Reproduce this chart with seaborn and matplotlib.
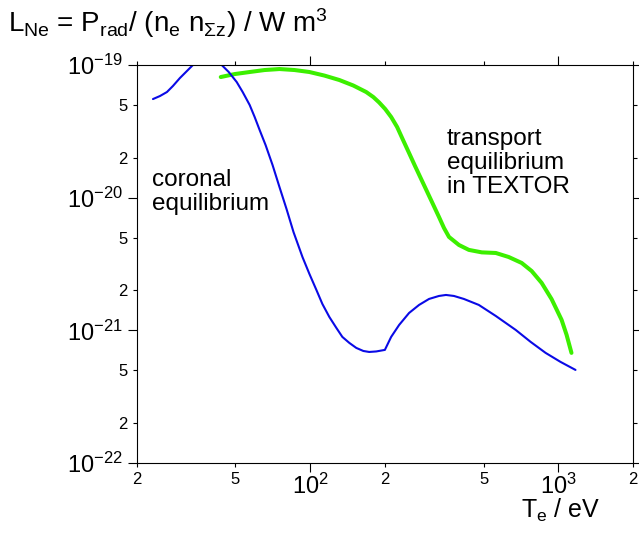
import matplotlib
matplotlib.use("Agg")
import matplotlib.pyplot as plt
import seaborn as sns
import pandas as pd

# Coronal equilibrium (blue)
coronal_te = [23.25, 24.81, 26.47, 27.98, 29.85, 31.85, 33.67, 35.93, 38.32, 40.88,
              44.01, 46.96, 50.56, 53.45, 57.03, 59.73, 62.55, 66.13, 70.55, 75.24,
              80.29, 85.66, 93.10, 99.31, 105.95, 112.0, 119.5, 127.5, 134.8, 143.8,
              153.4, 163.7, 172.9, 184.5, 200.0, 212.0, 228.3, 250.4, 274.7, 301.3,
              330.4, 352.6, 379.7, 416.4, 478.3, 559.9, 673.5, 773.8, 888.9, 1021,
              1173]
coronal_l = [5.54e-20, 5.84e-20, 6.26e-20, 6.95e-20, 7.98e-20, 9.01e-20, 1.0e-19,
             1.11e-19, 1.149e-19, 1.11e-19, 1.0e-19, 8.86e-20, 7.45e-20, 6.26e-20,
             5.00e-20, 4.06e-20, 3.24e-20, 2.49e-20, 1.76e-20, 1.20e-20, 8.22e-21,
             5.51e-21, 3.57e-21, 2.66e-21, 2.015e-21, 1.58e-21, 1.26e-21, 1.043e-21,
             8.92e-22, 8.04e-22, 7.37e-22, 6.99e-22, 6.87e-22, 6.93e-22, 7.12e-22,
             8.92e-22, 1.098e-21, 1.352e-21, 1.554e-21, 1.724e-21, 1.816e-21,
             1.848e-21, 1.816e-21, 1.724e-21, 1.554e-21, 1.283e-21, 1.007e-21,
             8.18e-22, 6.76e-22, 5.78e-22, 5.03e-22]

# Transport equilibrium in TEXTOR (green)
textor_te = [43.61, 49.63, 57.03, 65.52, 75.24, 86.45, 99.31, 114.1, 131.1, 149.2,
             168.2, 179.6, 189.7, 200.6, 212.0, 224.1, 236.8, 250.4, 264.7, 285.0,
             306.9, 330.4, 346.2, 362.6, 397.7, 436.1, 491.7, 559.9, 631.3, 711.9,
             780.9, 856.5, 939.6, 1031, 1080, 1130]
textor_l = [8.12e-20, 8.55e-20, 8.86e-20, 9.17e-20, 9.33e-20, 9.17e-20, 8.86e-20,
            8.33e-20, 7.71e-20, 7.01e-20, 6.26e-20, 5.74e-20, 5.22e-20, 4.66e-20,
            4.06e-20, 3.41e-20, 2.72e-20, 2.17e-20, 1.73e-20, 1.29e-20, 9.61e-21,
            7.16e-21, 5.91e-21, 5.06e-21, 4.40e-21, 4.04e-21, 3.87e-21, 3.83e-21,
            3.57e-21, 3.22e-21, 2.80e-21, 2.28e-21, 1.72e-21, 1.20e-21, 9.24e-22,
            6.76e-22]

x_major = [100, 1000]
x_major_labels = ["$10^2$", "$10^3$"]
x_minor = [20, 50, 200, 500, 2000]
x_minor_labels = ["2", "5", "2", "5", "2"]
y_major = [1e-22, 1e-21, 1e-20, 1e-19]
y_major_labels = ["$10^{-22}$", "$10^{-21}$", "$10^{-20}$", "$10^{-19}$"]
y_minor = [2e-22, 5e-22, 2e-21, 5e-21, 2e-20, 5e-20]
y_minor_labels = ["2", "5", "2", "5", "2", "5"]

sns.set_style("ticks")
plt.rcParams["font.family"] = ["Liberation Sans", "DejaVu Sans"]
plt.rcParams["text.color"] = "black"
plt.rcParams["xtick.color"] = "black"
plt.rcParams["ytick.color"] = "black"
plt.rcParams["mathtext.fontset"] = "custom"
plt.rcParams["mathtext.rm"] = "Liberation Sans"
plt.rcParams["mathtext.it"] = "Liberation Sans:italic"
plt.rcParams["mathtext.bf"] = "Liberation Sans:bold"
plt.rcParams["mathtext.default"] = "rm"

fig = plt.figure(figsize=(6.39, 5.42), dpi=100)
ax = fig.add_axes([0.214, 0.1458, 0.7766, 0.7342])

df_cor = pd.DataFrame({"Te": coronal_te, "L": coronal_l})
df_tex = pd.DataFrame({"Te": textor_te, "L": textor_l})
sns.lineplot(data=df_tex, x="Te", y="L", ax=ax, color="#3cef00", lw=2.9,
             sort=False, estimator=None)
sns.lineplot(data=df_cor, x="Te", y="L", ax=ax, color="#0a0ae6", lw=1.5,
             sort=False, estimator=None)

ax.set_xscale("log")
ax.set_yscale("log")
ax.set_xlim(20, 2000)
ax.set_ylim(1e-22, 1e-19)

ax.set_xticks(x_major)
ax.set_xticklabels(x_major_labels)
ax.set_xticks(x_minor, minor=True)
ax.set_xticklabels(x_minor_labels, minor=True)
ax.set_yticks(y_major)
ax.set_yticklabels(y_major_labels)
ax.set_yticks(y_minor, minor=True)
ax.set_yticklabels(y_minor_labels, minor=True)

ax.tick_params(which="both", direction="out", top=True, right=True,
               width=0.8, color="black", labelcolor="black")
ax.tick_params(which="major", length=6.5, labelsize=17)
ax.tick_params(which="minor", length=3, labelsize=12)
ax.tick_params(axis="y", which="both", pad=3.6)
ax.tick_params(axis="x", which="major", pad=1.5)
ax.tick_params(axis="x", which="minor", pad=3.5)
for s in ax.spines.values():
    s.set_visible(True)
    s.set_linewidth(0.8)
    s.set_color("black")
ax.set_xlabel("")
ax.set_ylabel("")

ax.text(0.030, 0.739, "coronal\nequilibrium", transform=ax.transAxes,
        fontsize=17.5, va="top", ha="left", linespacing=1.12, color="black")
ax.text(0.625, 0.841, "transport\nequilibrium\nin TEXTOR", transform=ax.transAxes,
        fontsize=17.5, va="top", ha="left", linespacing=1.12, color="black")

fig.text(0.013, 1 - 31.7 / 542,
         r"L$_{\mathrm{Ne}}$ = P$_{\mathrm{rad}}$/ (n$_{\mathrm{e}}$ n$_{\Sigma\mathrm{z}}$) / W m$^{3}$",
         fontsize=20, va="baseline", ha="left", color="black")
fig.text(600 / 639, 1 - 518 / 542, r"T$_{\mathrm{e}}$ / eV",
         fontsize=18, va="baseline", ha="right", color="black")

fig.savefig("out.png", dpi=100)
